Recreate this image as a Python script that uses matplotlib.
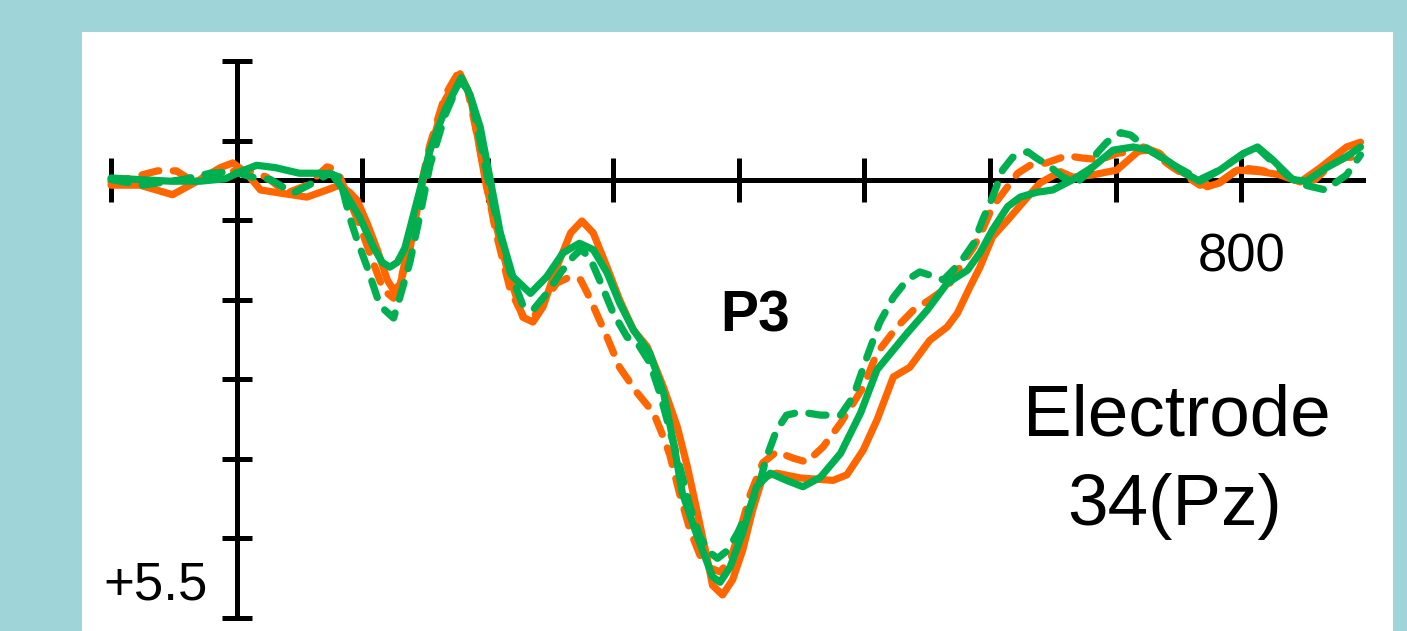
import matplotlib
matplotlib.use("Agg")
import matplotlib.pyplot as plt

plt.rcParams['font.family'] = ['Liberation Sans', 'DejaVu Sans']

# ---- data (time in ms, amplitude in microvolts; positive plotted downward) ----
t_orange_solid = [-100, -77, -51, -29, -13, -3, 8, 19, 35, 56, 72, 82, 90, 96, 104, 112, 120, 125, 130, 138,
                  146, 154, 166, 178, 186, 199, 215, 228, 236, 244, 255, 266, 275, 284, 295, 305, 316, 327,
                  340, 351, 359, 367, 375, 379, 387, 395, 403, 411, 419, 430, 449, 475, 486, 499, 510, 523,
                  536, 552, 566, 574, 584, 592, 602, 614, 626, 640, 656, 666, 682, 701, 722, 735, 746, 762,
                  773, 783, 797, 815, 831, 847, 863, 884, 895]
v_orange_solid = [0.06, 0.06, 0.18, -0.01, -0.16, -0.22, -0.09, 0.12, 0.16, 0.21, 0.12, 0.06, 0.15, 0.25, 0.54,
                  0.87, 1.25, 1.38, 1.31, 0.87, 0.18, -0.38, -1.01, -1.34, -1.07, 0.08, 1.09, 1.72, 1.78, 1.59,
                  1.09, 0.66, 0.51, 0.66, 1.09, 1.50, 1.88, 2.09, 2.60, 3.10, 3.60, 4.18, 4.77, 5.09, 5.21,
                  5.02, 4.65, 4.14, 3.73, 3.68, 3.74, 3.77, 3.70, 3.39, 3.01, 2.47, 2.35, 2.01, 1.84, 1.67,
                  1.34, 1.09, 0.71, 0.50, 0.28, 0.03, -0.11, -0.04, -0.07, -0.13, -0.42, -0.34, -0.16, -0.03,
                  0.08, 0.03, -0.13, -0.11, -0.07, 0.02, -0.16, -0.42, -0.48]

t_orange_dashed = [-100, -85, -63, -48, -37, -24, -5, 8, 24, 40, 56, 72, 80, 88, 98, 108, 117, 125, 130, 138,
                   146, 154, 166, 176, 184, 194, 206, 218, 228, 236, 247, 255, 266, 274, 281, 295, 305, 319,
                   332, 340, 345, 353, 361, 369, 377, 385, 393, 401, 409, 419, 430, 443, 454, 467, 481, 489,
                   499, 510, 526, 539, 552, 566, 576, 587, 594, 602, 614, 622, 632, 645, 661, 674, 688, 701,
                   712, 727, 743, 767, 783, 799, 815, 831, 847, 859, 871, 883, 895]
v_orange_dashed = [0.02, -0.03, -0.12, -0.12, -0.01, -0.04, -0.11, -0.13, -0.04, 0.16, 0.06, -0.17, -0.13, 0.18,
                   0.56, 1.00, 1.38, 1.48, 1.31, 0.75, 0.12, -0.45, -1.07, -1.34, -1.14, -0.38, 0.62, 1.38,
                   1.70, 1.73, 1.47, 1.29, 1.21, 1.25, 1.47, 1.97, 2.35, 2.67, 2.92, 3.23, 3.45, 3.95, 4.39,
                   4.71, 4.87, 4.92, 4.77, 4.39, 3.95, 3.55, 3.41, 3.49, 3.54, 3.35, 3.05, 2.85, 2.60, 2.17,
                   1.84, 1.63, 1.50, 1.34, 1.09, 0.84, 0.62, 0.33, 0.08, -0.09, -0.19, -0.22, -0.31, -0.28,
                   -0.26, -0.34, -0.36, -0.38, -0.19, 0.06, 0.02, -0.16, -0.13, -0.07, 0.02, -0.01, -0.19,
                   -0.29, -0.29]

t_green_solid = [-100, -77, -53, -29, -9, 3, 16, 31, 50, 66, 76, 85, 98, 109, 116, 122, 128, 134, 146, 154,
                 166, 179, 186, 194, 202, 210, 220, 234, 247, 260, 273, 284, 295, 305, 316, 329, 340, 348,
                 355, 367, 379, 385, 393, 403, 414, 425, 438, 451, 465, 481, 497, 510, 534, 550, 566, 582,
                 592, 602, 614, 624, 637, 650, 666, 682, 698, 714, 727, 743, 755, 767, 783, 802, 813, 825,
                 841, 852, 868, 883, 895]
v_green_solid = [-0.03, -0.01, 0.01, 0.01, -0.02, -0.11, -0.19, -0.16, -0.09, -0.09, -0.08, 0.12, 0.46, 0.84,
                 1.03, 1.09, 1.03, 0.85, 0.12, -0.38, -0.89, -1.29, -1.07, -0.67, -0.01, 0.66, 1.21, 1.42,
                 1.21, 0.91, 0.79, 0.87, 1.16, 1.54, 1.88, 2.17, 2.67, 3.30, 3.93, 4.48, 4.98, 5.05, 4.86,
                 4.43, 3.85, 3.68, 3.77, 3.85, 3.73, 3.43, 2.92, 2.38, 1.92, 1.63, 1.29, 1.13, 0.91, 0.62,
                 0.33, 0.21, 0.15, 0.12, -0.01, -0.17, -0.38, -0.42, -0.38, -0.23, -0.09, 0.01, -0.13,
                 -0.34, -0.42, -0.26, -0.01, 0.01, -0.16, -0.29, -0.42]

t_green_dashed = [-100, -75, -57, -43, -21, -3, 13, 27, 45, 61, 74, 82, 90, 96, 104, 112, 118, 125, 130, 138,
                  146, 154, 166, 178, 186, 196, 207, 218, 228, 236, 247, 258, 268, 274, 281, 289, 300, 311,
                  319, 329, 337, 345, 353, 361, 369, 377, 383, 391, 399, 409, 417, 422, 430, 438, 449, 465,
                  481, 491, 502, 512, 523, 534, 544, 552, 563, 576, 587, 594, 602, 610, 618, 630, 637, 648,
                  658, 669, 680, 685, 693, 704, 712, 727, 743, 767, 783, 802, 813, 825, 839, 851, 867, 884,
                  895]
v_green_dashed = [-0.01, 0.06, 0.02, -0.01, -0.09, -0.11, -0.04, -0.01, 0.16, 0.03, -0.09, -0.04, 0.46, 0.75,
                  1.09, 1.47, 1.63, 1.73, 1.47, 1.03, 0.44, -0.19, -0.82, -1.26, -1.10, -0.34, 0.50, 1.16,
                  1.57, 1.63, 1.42, 1.16, 0.96, 0.87, 0.96, 1.25, 1.67, 1.97, 2.04, 2.29, 2.67, 3.14, 3.60,
                  4.10, 4.48, 4.68, 4.75, 4.65, 4.43, 4.10, 3.77, 3.48, 3.14, 2.95, 2.91, 2.95, 2.95, 2.72,
                  2.22, 1.79, 1.47, 1.25, 1.15, 1.19, 1.25, 1.04, 0.79, 0.50, 0.21, -0.13, -0.29, -0.36,
                  -0.28, -0.17, -0.04, 0.03, -0.13, -0.34, -0.48, -0.60, -0.57, -0.38, -0.22, -0.01, -0.13,
                  -0.34, -0.41, -0.23, -0.03, 0.06, 0.12, -0.07, -0.32]

x_ticks = [-100, 0, 100, 200, 300, 400, 500, 600, 700, 800]
y_ticks = [-1.5, -0.5, 0.5, 1.5, 2.5, 3.5, 4.5, 5.5]

ORANGE = '#FF6600'
GREEN = '#00B050'
BG = '#9FD4D8'

fig = plt.figure(figsize=(14.07, 6.31), dpi=100, facecolor=BG)
ax = fig.add_axes([82 / 1407, 0, (1393 - 82) / 1407, 599 / 631])
ax.set_facecolor('white')

lw = 5.2
dash = (2.4, 2.0)
ax.plot(t_orange_solid, v_orange_solid, color=ORANGE, lw=lw, solid_joinstyle='round',
        solid_capstyle='round', zorder=3)
ax.plot(t_orange_dashed, v_orange_dashed, color=ORANGE, lw=lw, dashes=dash,
        dash_capstyle='round', dash_joinstyle='round', zorder=3)
ax.plot(t_green_dashed, v_green_dashed, color=GREEN, lw=lw, dashes=dash,
        dash_capstyle='round', dash_joinstyle='round', zorder=3)
ax.plot(t_green_solid, v_green_solid, color=GREEN, lw=lw, solid_joinstyle='round',
        solid_capstyle='round', zorder=3)

ax.set_xlim(-123.1, 920.9)
ax.set_ylim(5.663, -1.865)

for s in ('top', 'right'):
    ax.spines[s].set_visible(False)
ax.spines['left'].set_position(('data', 0))
ax.spines['bottom'].set_position(('data', 0))
ax.spines['left'].set_bounds(-1.5, 5.5)
ax.spines['bottom'].set_bounds(-100, 897)
for s in ('left', 'bottom'):
    ax.spines[s].set_linewidth(3.6)
    ax.spines[s].set_color('black')

ax.set_xticks(x_ticks)
ax.set_yticks(y_ticks)
ax.set_xticklabels([])
ax.set_yticklabels([])
ax.tick_params(axis='x', direction='inout', length=32, width=3.6, color='black')
ax.tick_params(axis='y', direction='inout', length=21.6, width=3.6, color='black')

ax.text(800, 1.151, '800', ha='center', va='baseline', fontsize=38)
ax.text(-22.8, 5.27, '+5.5', ha='right', va='baseline', fontsize=38)
ax.text(413, 1.905, 'P3', ha='center', va='baseline', fontsize=41, fontweight='bold')
ax.text(749, 3.20, 'Electrode', ha='center', va='baseline', fontsize=52.5)
ax.text(747, 4.33, '34(Pz)', ha='center', va='baseline', fontsize=52.5)

fig.savefig('out.png', dpi=100, facecolor=BG)
